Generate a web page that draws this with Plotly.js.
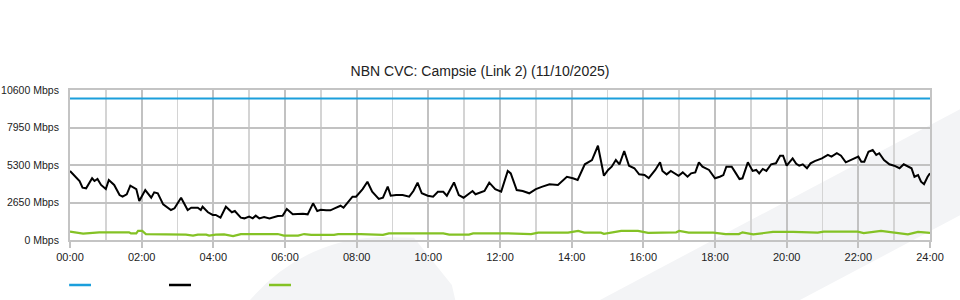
<!DOCTYPE html>
<html>
<head>
<meta charset="utf-8">
<script src="https://cdn.plot.ly/plotly-3.0.1.min.js"></script>
<style>html,body{margin:0;padding:0;background:#fff;}#chart{width:960px;height:300px;}</style>
</head>
<body>
<div id="chart"></div>
<script>
// Minutes of the day (00:00 = 0, 24:00 = 1440)
const capacityMinutes = [0, 1440];
const capacityMbps = [10000, 10000];

const trafficMinutes = [0,10,16,21,27,37,41,46,52,60,65,74,83,88,95,101,111,116,126,136,141,147,156,169,175,186,197,203,214,219,222,231,239,244,252,261,271,276,286,292,300,306,311,317,325,334,342,348,356,363,373,381,390,398,407,414,420,429,436,443,453,458,465,473,479,487,490,498,506,517,524,532,537,546,557,568,575,582,589,599,608,616,625,631,643,651,659,674,679,694,702,712,722,733,738,748,758,769,780,791,803,817,832,842,850,862,874,884,894,901,907,914,920,928,936,945,953,962,969,980,988,992,999,1006,1019,1026,1034,1040,1047,1053,1059,1070,1080,1088,1094,1099,1108,1114,1121,1126,1135,1143,1149,1154,1160,1166,1174,1182,1189,1194,1200,1210,1216,1221,1227,1234,1240,1247,1259,1269,1275,1284,1291,1299,1307,1314,1320,1325,1330,1337,1344,1350,1355,1363,1372,1380,1389,1396,1403,1409,1414,1420,1425,1430,1436,1440];
const trafficMbps = [4880,4470,4170,3700,3650,4360,4170,4310,3890,3600,4240,3890,3180,3060,3230,3840,3600,2760,3530,2990,3370,3300,2520,2120,2240,2990,2120,2280,2280,2120,2350,1960,1770,1770,1580,2350,1960,2050,1580,1530,1650,1530,1720,1530,1625,1530,1625,1700,1720,2190,1815,1860,1860,1815,2590,2050,2140,2100,2100,2240,2420,2280,2660,3060,3060,3410,3600,4120,3410,2900,2990,3770,3130,3180,3180,3060,3460,4050,3300,3130,3060,3410,3410,3130,4070,3180,2990,3460,3230,3460,4050,3600,3420,4880,4710,3530,3460,3300,3600,3770,3940,3890,4470,4360,4240,5350,5650,6660,4540,4950,5180,5650,5350,6290,5250,5070,4640,4590,4380,4950,5490,4880,4640,4880,4540,4780,4470,4710,4780,5490,5180,4950,4360,4470,4590,5180,5180,4780,4310,4360,5490,4880,4950,4710,5020,4880,5350,5420,5960,5960,5250,5770,5380,5250,5350,5070,5420,5580,5770,6010,5890,6130,5960,5490,5650,5820,5890,5530,5530,6240,6360,6010,6130,5650,5350,5250,5070,5350,5180,5070,4470,4590,4120,3940,4470,4710];

const otherMinutes = [0,12,22,49,99,102,111,114,121,127,156,161,194,206,214,228,233,244,258,273,286,348,358,382,392,404,442,449,487,524,534,625,635,668,675,730,772,784,834,851,861,889,894,923,951,968,1015,1020,1036,1077,1098,1120,1126,1144,1177,1211,1252,1262,1319,1329,1358,1403,1420,1440];
const otherMbps = [590,500,450,540,540,470,470,640,640,420,420,380,380,310,380,380,310,380,400,280,420,420,310,310,420,360,360,420,420,360,470,470,380,380,470,470,420,520,520,640,520,520,440,640,640,500,540,640,520,520,420,420,540,400,570,570,520,590,590,490,640,400,570,500];

const seriesColors = ['#1b9fdc', '#000000', '#84c225'];

const yTickVals = [0, 2650, 5300, 7950, 10600];
const yTickText = ['0 Mbps', '2650 Mbps', '5300 Mbps', '7950 Mbps', '10600 Mbps'];
const xTickVals = [0, 120, 240, 360, 480, 600, 720, 840, 960, 1080, 1200, 1320, 1440];
const xTickText = ['00:00','02:00','04:00','06:00','08:00','10:00','12:00','14:00','16:00','18:00','20:00','22:00','24:00'];
const xMinorVals = [60, 180, 300, 420, 540, 660, 780, 900, 1020, 1140, 1260, 1380];

const chartTitle = 'NBN CVC: Campsie (Link 2) (11/10/2025)';

const FONT = '"Liberation Sans", Arial, Helvetica, sans-serif';

const traces = [
  {x: capacityMinutes, y: capacityMbps, mode: 'lines', line: {color: seriesColors[0], width: 2}, hoverinfo: 'skip'},
  {x: trafficMinutes, y: trafficMbps, mode: 'lines', line: {color: seriesColors[1], width: 2}, hoverinfo: 'skip'},
  {x: otherMinutes, y: otherMbps, mode: 'lines', line: {color: seriesColors[2], width: 2.2}, hoverinfo: 'skip'}
];

// legend swatches (no text), drawn below the axis
const legendX = [[-0.001, 0.0244], [0.1151, 0.1407], [0.2314, 0.2570]];
const shapes = [
  // background watermark
  {type: 'path', xref: 'paper', yref: 'paper', layer: 'below',
   path: 'M 1.04,0.887 L 1.04,0.18 L 0.8488,-0.4 L 0.6163,-0.4 Z',
   fillcolor: '#f3f4f6', line: {width: 0}},
  {type: 'path', xref: 'paper', yref: 'paper', layer: 'below',
   path: 'M 0.2093,-0.4 Q 0.27,0.0 0.36,0.02 L 0.40,0.015 L 0.444,-0.3 L 0.448,-0.4 Z',
   fillcolor: '#f3f4f6', line: {width: 0}}
];
legendX.forEach((lx, i) => {
  shapes.push({type: 'line', xref: 'paper', yref: 'paper', x0: lx[0], x1: lx[1], y0: -0.3, y1: -0.3,
    line: {color: seriesColors[i], width: 2.5}});
});

const layout = {
  width: 960, height: 300,
  margin: {l: 70, r: 30, t: 90, b: 60},
  paper_bgcolor: 'rgba(0,0,0,0)',
  plot_bgcolor: 'rgba(0,0,0,0)',
  showlegend: false,
  font: {family: FONT, size: 11, color: '#222'},
  title: {text: chartTitle, x: 0.5, xref: 'container', xanchor: 'center',
          y: 1 - 71/300, yref: 'container', yanchor: 'middle',
          font: {family: FONT, size: 14, color: '#222'}},
  xaxis: {
    range: [0, 1440], tickmode: 'array', tickvals: xTickVals, ticktext: xTickText,
    showgrid: true, gridcolor: '#c2c2c2', gridwidth: 2,
    ticks: 'outside', ticklen: 6, tickcolor: '#c2c2c2', tickwidth: 2,
    showline: true, linecolor: '#c4c4c4', linewidth: 2, mirror: true,
    zeroline: false, fixedrange: true,
    tickfont: {family: FONT, size: 11, color: '#222'},
    minor: {tickmode: 'array', tickvals: xMinorVals, showgrid: true, gridcolor: '#d4d4d4', gridwidth: 1.5, ticks: ''}
  },
  yaxis: {
    range: [0, 10600], tickmode: 'array', tickvals: yTickVals, ticktext: yTickText,
    showgrid: true, gridcolor: '#c2c2c2', gridwidth: 2,
    ticks: 'outside', ticklen: 7, tickcolor: 'rgba(0,0,0,0)',
    showline: true, linecolor: '#c4c4c4', linewidth: 2, mirror: true,
    zeroline: false, fixedrange: true,
    tickfont: {family: FONT, size: 10.5, color: '#222'}
  },
  shapes: shapes
};

Plotly.newPlot('chart', traces, layout, {staticPlot: true, displayModeBar: false});
</script>
</body>
</html>
